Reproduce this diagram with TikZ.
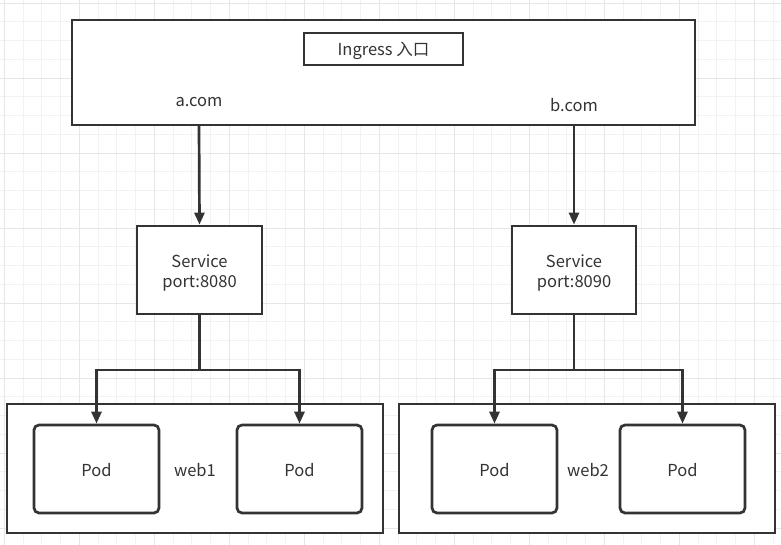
\documentclass[tikz,border=0pt]{standalone}
\usepackage{fontspec}
\setmainfont{Noto Sans CJK SC}
\usetikzlibrary{arrows.meta}
\definecolor{ink}{HTML}{333333}
\definecolor{gridminor}{HTML}{F2F2F2}
\definecolor{gridmajor}{HTML}{E6E6E6}
\tikzset{
  box/.style={draw=ink, line width=2.7pt, fill=white, inner sep=0pt},
  podbox/.style={box, rounded corners=5pt},
  conn/.style={draw=ink, line width=2.7pt},
  arr/.style={conn, -{Triangle[length=12pt,width=10pt]}},
  lbl/.style={text=ink, font=\fontsize{16.5}{20}\selectfont, inner sep=0pt, align=center},
}
\begin{document}
\begin{tikzpicture}[x=1pt,y=-1pt]
\useasboundingbox (0,0) rectangle (781,545);
\fill[white] (0,0) rectangle (781,545);
% grid
\foreach \i in {0,...,41} {
  \draw[gridminor, line width=1pt] ({4.3+18.75*\i},0) -- ({4.3+18.75*\i},545);
}
\foreach \i in {0,...,29} {
  \draw[gridminor, line width=1pt] (0,{3.05+18.75*\i}) -- (781,{3.05+18.75*\i});
}
\foreach \i in {0,...,10} {
  \draw[gridmajor, line width=1pt] ({4.3+75*\i},0) -- ({4.3+75*\i},545);
}
\foreach \i in {0,...,7} {
  \draw[gridmajor, line width=1pt] (0,{3.05+75*\i}) -- (781,{3.05+75*\i});
}
% top ingress box
\draw[box] (72,20) rectangle (695,125);
\coordinate (atop) at (199,125);
\coordinate (btop) at (574,125);
\node[box, minimum width=159pt, minimum height=32pt] (ing) at (383.5,49) {};
\node[lbl] (ingt) at (383.5,51) {Ingress 入口};
\node[lbl] (acom) at (199,102.5) {a.com};
\node[lbl] (bcom) at (574,105.5) {b.com};
% services
\node[box, minimum width=125pt, minimum height=88pt] (s1) at (199.5,270) {};
\node[lbl] (s1t) at (199.5,272.5) {Service\\port:8080};
\node[box, minimum width=124pt, minimum height=88pt] (s2) at (574,270) {};
\node[lbl] (s2t) at (574,272.5) {Service\\port:8090};
% groups
\draw[box] (7,404) rectangle (383,533);
\draw[box] (399,404) rectangle (775,533);
\node[podbox, minimum width=125pt, minimum height=88pt] (p1) at (96.5,469) {};
\node[podbox, minimum width=125pt, minimum height=88pt] (p2) at (299.5,469) {};
\node[podbox, minimum width=125pt, minimum height=88pt] (p3) at (494.5,469) {};
\node[podbox, minimum width=125pt, minimum height=88pt] (p4) at (682.5,469) {};
\node[lbl] at ([yshift=-1.5pt]p1) {Pod};
\node[lbl] at ([yshift=-1.5pt]p2) {Pod};
\node[lbl] at ([yshift=-1.5pt]p3) {Pod};
\node[lbl] at ([yshift=-1.5pt]p4) {Pod};
\node[lbl] (w1) at (195,470.5) {web1};
\node[lbl] (w2) at (588,470.5) {web2};
% connectors
\draw[arr] (atop) -- (s1.north);
\draw[arr] (btop) -- (s2.north);
\coordinate (j1) at (199.5,370);
\coordinate (j2) at (574,370);
\draw[conn] (s1.south) -- (j1);
\draw[conn] (s2.south) -- (j2);
\draw[arr, line join=miter] (j1) -| (p1.north);
\draw[arr, line join=miter] (j1) -| (p2.north);
\draw[arr, line join=miter] (j2) -| (p3.north);
\draw[arr, line join=miter] (j2) -| (p4.north);
\end{tikzpicture}
\end{document}
